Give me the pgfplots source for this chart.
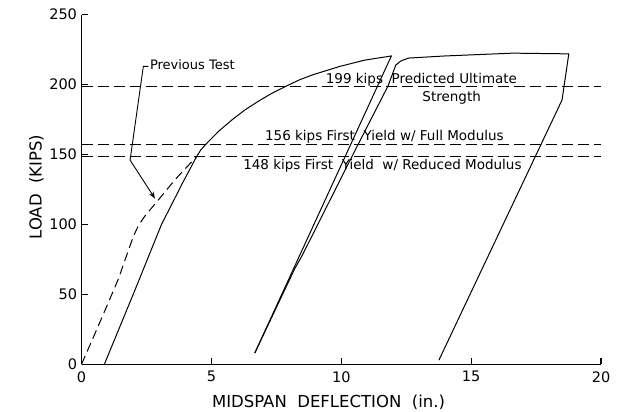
\documentclass[border=0pt]{standalone}
\usepackage{fontspec}
\setmainfont{DejaVu Sans}
\usepackage{pgfplots}
\pgfplotsset{compat=1.18}
\usetikzlibrary{arrows.meta}
\begin{document}
\begin{tikzpicture}
\useasboundingbox (-81.5bp,-47.7bp) rectangle (538.5bp,364.3bp);
\begin{axis}[
  at={(0,0)}, anchor=south west, scale only axis,
  width=519.5bp, height=349.6bp,
  xmin=0, xmax=20, ymin=0, ymax=250,
  axis lines=left, axis line style={-, line width=1.2pt},
  xtick={0,5,10,15,20}, ytick={0,50,100,150,200,250},
  tick align=inside, major tick length=6bp, tick style={line width=1.1pt, black},
  /pgf/number format/assume math mode=true,
  tick label style={font=\fontsize{14.5bp}{16bp}\selectfont},
  xticklabel style={yshift=-3.5bp},
  yticklabel style={xshift=-1bp},
  xlabel={MIDSPAN\ \ DEFLECTION\ \ (in.)},
  ylabel={LOAD\ \ (KIPS)},
  label style={font=\fontsize{16.5bp}{18bp}\selectfont},
  xlabel style={at={(axis description cs:0.4755,-0.125)}, anchor=base},
  ylabel style={at={(axis description cs:-0.0766,0.507)}, anchor=base},
  clip=false,
]
% horizontal reference lines
\addplot[black, line width=1pt, dash pattern=on 11bp off 5bp] coordinates {(0,199) (20,199)};
\addplot[black, line width=1pt, dash pattern=on 11bp off 5bp] coordinates {(0,157) (20,157)};
\addplot[black, line width=1pt, dash pattern=on 11bp off 5bp] coordinates {(0,148.5) (20,148.5)};
% previous test (dashed)
\addplot[black, line width=1pt, dash pattern=on 9bp off 5bp] coordinates {
 (0,0) (0.52,22) (1.03,44) (1.42,61) (1.74,78) (1.93,88) (2.06,94) (2.2,99.5) (2.44,106)
 (2.89,116) (3.6,132) (4.43,148.5)};
% first loading and unloading
\addplot[black, line width=1pt] coordinates {
 (0.88,0) (1.99,50) (3.08,100) (3.9,130) (4.43,148.5) (4.6,153.5) (4.82,158) (5.3,167)
 (5.84,175.5) (6.3,182) (6.8,188) (7.3,193.5) (7.89,199) (8.4,203.5) (8.9,207) (9.94,213)
 (10.9,217.5) (11.93,220.5)
 (6.67,8)};
% reloading, top, final unloading
\addplot[black, line width=1pt] coordinates {
 (6.67,8) (8.2,68) (8.5,78) (10.45,150) (11.8,199) (12.1,214) (12.3,217)
 (12.6,219) (14,220.5) (16.6,222.5) (18.76,222) (18.5,189) (13.76,3)};
% annotations
\node[anchor=base west, font=\fontsize{13bp}{15bp}\selectfont, inner sep=0pt] at (axis cs:2.63,210.7) {Previous Test};
\draw[black, line width=0.9pt, -{Stealth[length=7bp,width=5bp]}]
  (axis cs:2.57,213) -- (axis cs:2.38,213) -- (axis cs:1.87,146) -- (axis cs:2.83,118.5);
\node[anchor=base west, font=\fontsize{13.5bp}{15bp}\selectfont, inner sep=0pt] at (axis cs:9.4,200.5) {199 kips\ \ Predicted Ultimate};
\node[anchor=base, font=\fontsize{13.5bp}{15bp}\selectfont, inner sep=0pt] at (axis cs:14.25,188) {Strength};
\node[anchor=base west, font=\fontsize{13.5bp}{15bp}\selectfont, inner sep=0pt] at (axis cs:7.06,159.7) {156 kips First\ \ Yield\ w/ Full Modulus};
\node[anchor=base west, font=\fontsize{13.5bp}{15bp}\selectfont, inner sep=0pt] at (axis cs:6.22,139.3) {148 kips First\ \ Yield\ \ w/ Reduced Modulus};
\end{axis}
\end{tikzpicture}
\end{document}
